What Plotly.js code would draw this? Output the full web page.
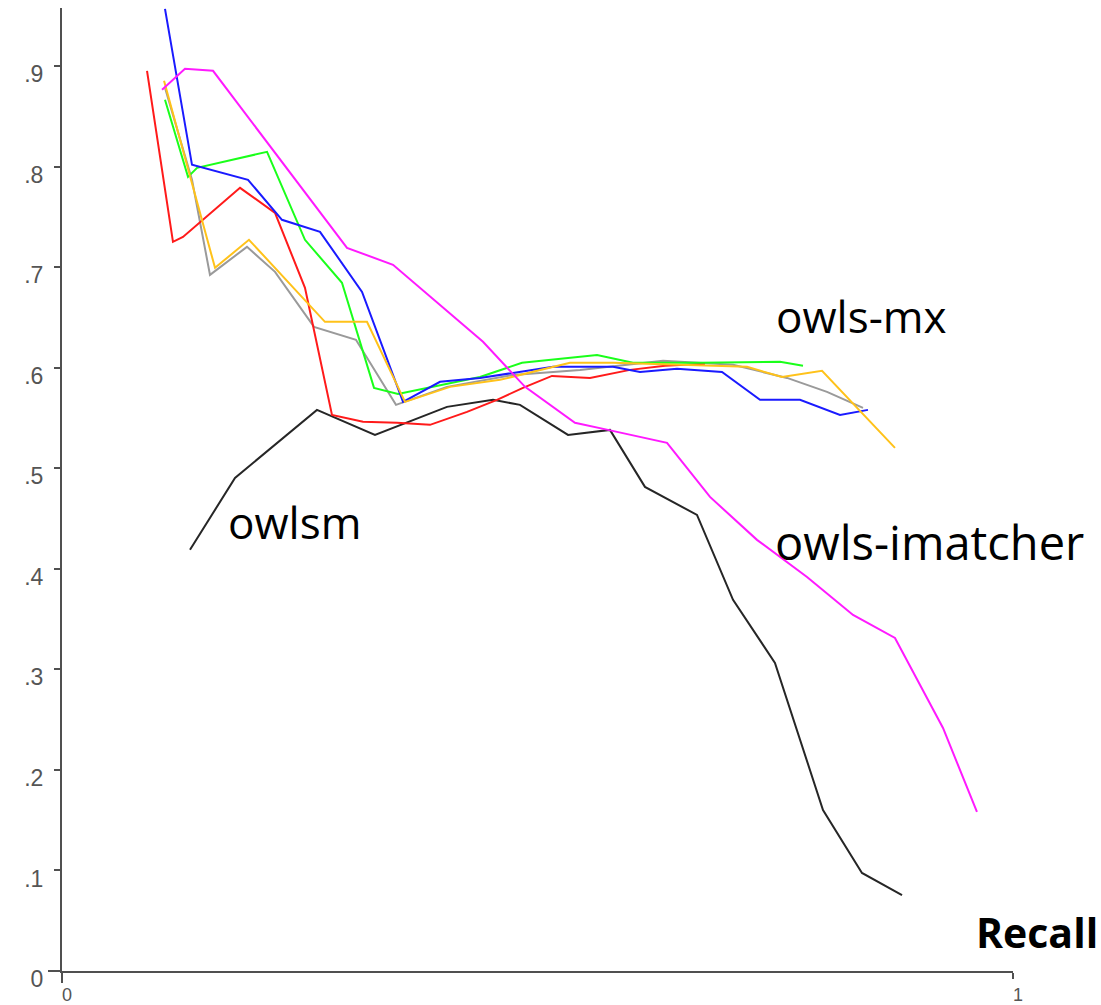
<!DOCTYPE html>
<html>
<head>
<meta charset="utf-8">
<script src="https://cdn.plot.ly/plotly-3.0.1.min.js"></script>
<style>
  html, body { margin: 0; padding: 0; background: #ffffff; }
  #chart { width: 1101px; height: 1005px; }
</style>
</head>
<body>
<div id="chart"></div>
<script>
// ---- Data (recall on x, precision on y) ----
const owlsmRecall      = [0.1346, 0.1819, 0.2681, 0.3291, 0.4048, 0.4532, 0.4816, 0.5321, 0.5762, 0.6130, 0.6677, 0.7056, 0.7497, 0.8002, 0.8412, 0.8833];
const owlsmPrecision   = [0.419, 0.4905, 0.5582, 0.5333, 0.5612, 0.5682, 0.5632, 0.5333, 0.5383, 0.4816, 0.4537, 0.3692, 0.3065, 0.1602, 0.0975, 0.0756];

const imatcherRecall    = [0.1052, 0.1293, 0.1588, 0.2997, 0.3481, 0.4427, 0.4869, 0.5394, 0.5741, 0.6362, 0.6814, 0.7308, 0.7834, 0.8318, 0.8759, 0.9264, 0.9621];
const imatcherPrecision = [0.8766, 0.8975, 0.8955, 0.7194, 0.7025, 0.6259, 0.5811, 0.5453, 0.5383, 0.5254, 0.4716, 0.4289, 0.3920, 0.3542, 0.3313, 0.2418, 0.1582];

const redRecall    = [0.0894, 0.1167, 0.1272, 0.1872, 0.2240, 0.2555, 0.2839, 0.3165, 0.3523, 0.3870, 0.4259, 0.4574, 0.4847, 0.5152, 0.5552, 0.5973, 0.6341, 0.6761];
const redPrecision = [0.8955, 0.7254, 0.7303, 0.7791, 0.7542, 0.6796, 0.5532, 0.5463, 0.5453, 0.5433, 0.5562, 0.5682, 0.5801, 0.5920, 0.5900, 0.5980, 0.6020, 0.6040];

const blueRecall    = [0.1083, 0.1367, 0.1956, 0.2313, 0.2713, 0.3155, 0.3586, 0.3975, 0.4395, 0.5163, 0.5794, 0.6078, 0.6467, 0.6940, 0.7340, 0.7760, 0.8181, 0.8475];
const bluePrecision = [0.9572, 0.8020, 0.7871, 0.7473, 0.7353, 0.6756, 0.5662, 0.5861, 0.5900, 0.6010, 0.6010, 0.5960, 0.5990, 0.5960, 0.5682, 0.5682, 0.5532, 0.5582];

const greenRecall    = [0.1083, 0.1325, 0.1420, 0.2156, 0.2555, 0.2944, 0.3281, 0.3533, 0.4395, 0.4837, 0.5626, 0.6004, 0.6709, 0.7550, 0.7792];
const greenPrecision = [0.8667, 0.7900, 0.7990, 0.8149, 0.7274, 0.6846, 0.5801, 0.5741, 0.5910, 0.6050, 0.6129, 0.6050, 0.6050, 0.6060, 0.6020];

const yellowRecall    = [0.1073, 0.1609, 0.1966, 0.2765, 0.3207, 0.3607, 0.4080, 0.4606, 0.5342, 0.5794, 0.6498, 0.7203, 0.7571, 0.7992, 0.8759];
const yellowPrecision = [0.8856, 0.6995, 0.7274, 0.6458, 0.6458, 0.5662, 0.5811, 0.5881, 0.6050, 0.6050, 0.6030, 0.6010, 0.5910, 0.5970, 0.5204];

const grayRecall    = [0.1083, 0.1367, 0.1556, 0.1945, 0.2240, 0.2650, 0.3091, 0.3512, 0.4048, 0.4742, 0.5447, 0.6320, 0.7056, 0.7624, 0.8044, 0.8423];
const grayPrecision = [0.8786, 0.7871, 0.6925, 0.7204, 0.6955, 0.6408, 0.6279, 0.5632, 0.5811, 0.5930, 0.5980, 0.6070, 0.6030, 0.5900, 0.5761, 0.5602];

const yTickVals  = [0, 0.1, 0.2, 0.3, 0.4, 0.5, 0.6, 0.7, 0.8, 0.9];
const yTickText  = ['0', '.1', '.2', '.3', '.4', '.5', '.6', '.7', '.8', '.9'];
const xTickVals  = [0, 1];
const xTickText  = ['0', '1'];

const curveLabels = [
  { text: 'owls-mx',       x: 0.8412, y: 0.652, size: 44 },
  { text: 'owlsm',         x: 0.2440, y: 0.4468, size: 44 },
  { text: 'owls-imatcher', x: 0.9127, y: 0.4264, size: 47 }
];
const xAxisLabel = 'Recall';

// ---- Traces ----
function line(x, y, color, name) {
  return { x: x, y: y, type: 'scatter', mode: 'lines', name: name,
           line: { color: color, width: 2 }, hoverinfo: 'skip', cliponaxis: true };
}
const traces = [
  line(owlsmRecall, owlsmPrecision, '#262626', 'owlsm'),
  line(grayRecall, grayPrecision, '#9a9a9a', 'gray'),
  line(redRecall, redPrecision, '#ff1a1a', 'red'),
  line(greenRecall, greenPrecision, '#1aff1a', 'green'),
  line(blueRecall, bluePrecision, '#1a1aff', 'blue'),
  line(yellowRecall, yellowPrecision, '#ffc21a', 'yellow'),
  line(imatcherRecall, imatcherPrecision, '#ff1aff', 'owls-imatcher')
];

const axisColor = '#505050';
const yTickFont = { family: 'Liberation Sans, Arial, sans-serif', size: 23, color: '#555555' };
const xTickFont = { family: 'Liberation Sans, Arial, sans-serif', size: 18, color: '#555555' };

const annotations = curveLabels.map(l => ({
  text: l.text, x: l.x, y: l.y, xref: 'x', yref: 'y', showarrow: false,
  xanchor: 'center', yanchor: 'middle',
  font: { family: 'Open Sans, sans-serif', size: l.size, color: '#000000' }
}));

const plotW = 951, plotH = 963;
annotations.push({
  text: '<b>' + xAxisLabel + '</b>', x: (1037 - 62) / plotW, y: (971 - 932) / plotH,
  xref: 'paper', yref: 'paper', showarrow: false,
  xanchor: 'center', yanchor: 'middle',
  font: { family: 'Open Sans, sans-serif', size: 41, color: '#000000' }
});

const layout = {
  width: 1101, height: 1005,
  margin: { l: 62, r: 88, t: 8, b: 34, pad: 0 },
  paper_bgcolor: '#ffffff', plot_bgcolor: '#ffffff',
  showlegend: false,
  xaxis: {
    range: [0, 1], showgrid: false, zeroline: false,
    showline: true, linecolor: axisColor, linewidth: 2,
    ticks: 'outside', ticklen: 6, tickwidth: 2, tickcolor: axisColor,
    tickvals: xTickVals, ticktext: xTickText, tickfont: xTickFont,
    ticklabelshift: 5, ticklabelstandoff: 0
  },
  yaxis: {
    range: [0, 0.958], showgrid: false, zeroline: false,
    showline: true, linecolor: axisColor, linewidth: 2,
    ticks: 'outside', ticklen: 6, tickwidth: 2, tickcolor: axisColor,
    tickvals: yTickVals, ticktext: yTickText, tickfont: yTickFont,
    ticklabelshift: 8, ticklabelstandoff: 6
  },
  shapes: [
    { type: 'line', xref: 'paper', yref: 'paper', x0: -14 / plotW, x1: 0, y0: 0, y1: 0,
      line: { color: axisColor, width: 2 } },
    { type: 'line', xref: 'paper', yref: 'paper', x0: 0, x1: 0, y0: -12 / plotH, y1: 0,
      line: { color: axisColor, width: 2 } }
  ],
  annotations: annotations
};

Plotly.newPlot('chart', traces, layout, { displayModeBar: false, staticPlot: true });
</script>
</body>
</html>
